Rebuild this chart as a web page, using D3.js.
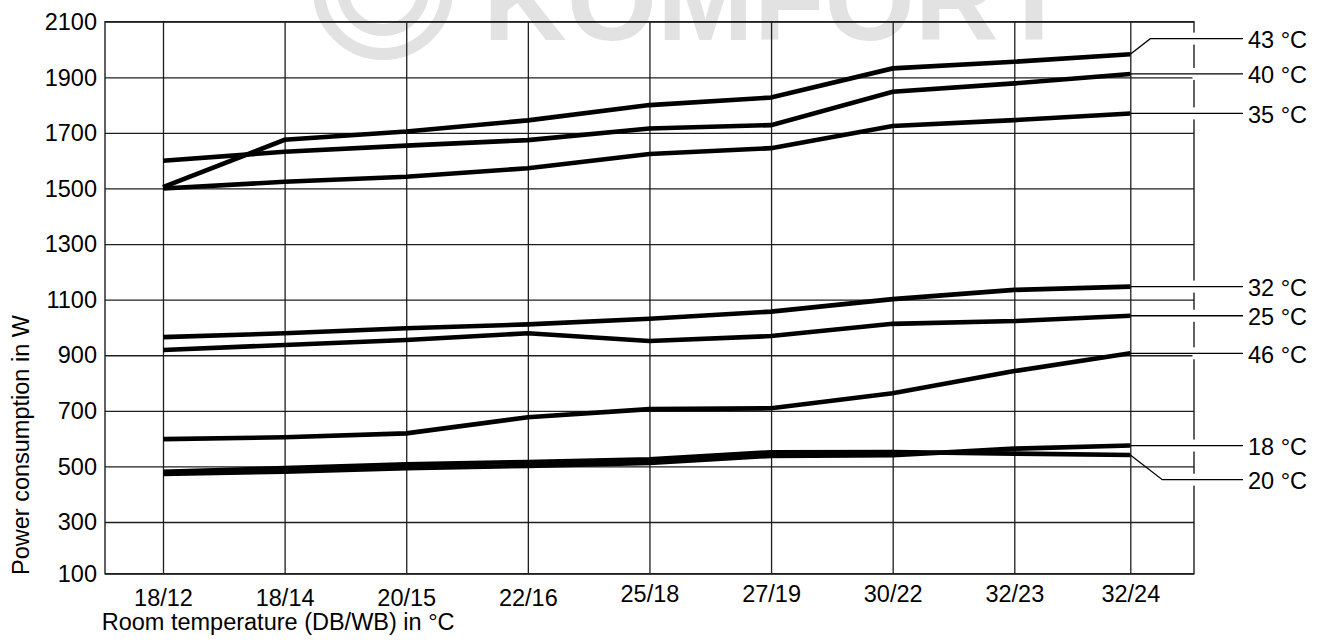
<!DOCTYPE html>
<html><head><meta charset="utf-8">
<script src="https://cdn.jsdelivr.net/npm/d3@7"></script>
<style>
body{margin:0;background:#fff}
text{font-family:"Liberation Sans",Arial,Helvetica,sans-serif;}
</style>
</head><body>
<svg id="chart" width="1319" height="644"></svg>
<script>
// ---- data ----
const categories = ["18/12","18/14","20/15","22/16","25/18","27/19","30/22","32/23","32/24"];
const yTicks = [100,300,500,700,900,1100,1300,1500,1700,1900,2100];
const seriesNames = ["43 °C","40 °C","35 °C","32 °C","25 °C","46 °C","18 °C","20 °C"];
const s43 = [1505,1675,1705,1745,1800,1827,1932,1956,1983];
const s40 = [1600,1632,1654,1674,1716,1728,1848,1878,1912];
const s35 = [1500,1524,1542,1573,1624,1645,1725,1746,1770];
const s32 = [965,979,997,1011,1031,1057,1102,1135,1147];
const s25 = [919,937,955,979,951,969,1013,1023,1042];
const s46 = [598,605,619,677,706,709,763,843,907];
const s18 = [473,481,494,502,512,538,540,564,575];
const s20 = [481,494,508,516,526,551,552,546,541];
const xTitle = "Room temperature (DB/WB) in °C";
const yTitle = "Power consumption in W";
const watermark = "KOMFORT";

const seriesValues = [s43,s40,s35,s32,s25,s46,s18,s20];

// ---- layout ----
const L = 105, R = 1194, T = 21.7, B = 573.7;
const FS = 23.5;
const labelX = 1248, leaderEnd = 1243;
const labelShift = {"43 °C": {dy:-15.6, dx:20}, "20 °C": {dy:24.7, dx:32}};

const svg = d3.select("#chart");

// watermark
const wm = svg.append("g").attr("fill","none");
wm.append("circle").attr("cx",383).attr("cy",-10).attr("r",64)
  .attr("stroke","#e2e2e2").attr("stroke-width",12);
wm.append("circle").attr("cx",383).attr("cy",-10).attr("r",40)
  .attr("stroke","#e2e2e2").attr("stroke-width",12);
svg.append("text").attr("x",483).attr("y",40).text(watermark)
  .attr("font-size",116).attr("font-weight","bold").attr("fill","#e2e2e2");

const x = d3.scaleLinear().domain([0,7,8]).range([163,1014.3,1130.3]);
const y = d3.scaleLinear().domain([100,300,2100]).range([B,522,T]);

// y axis with gridlines
const yAxis = svg.append("g").attr("transform",`translate(${L},0)`)
  .call(d3.axisLeft(y).tickValues(yTicks).tickSize(-(R-L)).tickPadding(8).tickFormat(d3.format("d")));
yAxis.select(".domain").remove();
yAxis.selectAll(".tick line").attr("stroke","#1e1e1e").attr("stroke-width",1.3);
yAxis.selectAll(".tick text").attr("font-size",FS).attr("fill","#000")
  .attr("font-family","Liberation Sans, Arial, sans-serif").attr("dy","0.33em");

// x axis with gridlines
const xAxis = svg.append("g").attr("transform",`translate(0,${B})`)
  .call(d3.axisBottom(x).tickValues(d3.range(categories.length)).tickFormat(i=>categories[i])
    .tickSize(-(B-T)).tickPadding(14));
xAxis.select(".domain").remove();
xAxis.selectAll(".tick line").attr("stroke","#1e1e1e").attr("stroke-width",1.3);
xAxis.selectAll(".tick text").attr("font-size",FS).attr("fill","#000")
  .attr("font-family","Liberation Sans, Arial, sans-serif")
  .attr("y",(d,i)=> i<4 ? 15.6 : 11.2).attr("dy","0.71em");

// frame
svg.append("rect").attr("x",L).attr("y",T).attr("width",R-L).attr("height",B-T)
  .attr("fill","none").attr("stroke","#1e1e1e").attr("stroke-width",1.4);

// lines
const line = d3.line().x((d,i)=>x(i)).y(d=>y(d));
svg.append("g").selectAll("path").data(seriesValues).join("path")
  .attr("d",line).attr("fill","none").attr("stroke","#000")
  .attr("stroke-width",4.6).attr("stroke-linejoin","miter");

// labels and leaders
const lab = svg.append("g");
seriesNames.forEach((name,k)=>{
  const vals = seriesValues[k];
  const last = vals.length-1;
  const px = x(last), py = y(vals[last]);
  const sh = labelShift[name] || {dy:0,dx:0};
  const ly = py + sh.dy;
  lab.append("line").attr("x1",R).attr("x2",R).attr("y1",ly-6).attr("y2",ly+6)
    .attr("stroke","#fff").attr("stroke-width",3);
  const pts = sh.dx ? [[px,py],[px+sh.dx,ly],[leaderEnd,ly]] : [[px,py],[leaderEnd,ly]];
  lab.append("path").attr("d",d3.line()(pts)).attr("fill","none")
    .attr("stroke","#000").attr("stroke-width",1.3);
  lab.append("text").attr("x",labelX).attr("y",ly).attr("dy","0.4em")
    .attr("font-size",FS).attr("fill","#000").text(name);
});

// axis titles
svg.append("text").attr("x",101.7).attr("y",630).attr("font-size",FS)
  .attr("fill","#000").text(xTitle);
svg.append("text").attr("transform","translate(28.8,575) rotate(-90)")
  .attr("font-size",FS).attr("fill","#000").text(yTitle);
</script>
</body></html>
